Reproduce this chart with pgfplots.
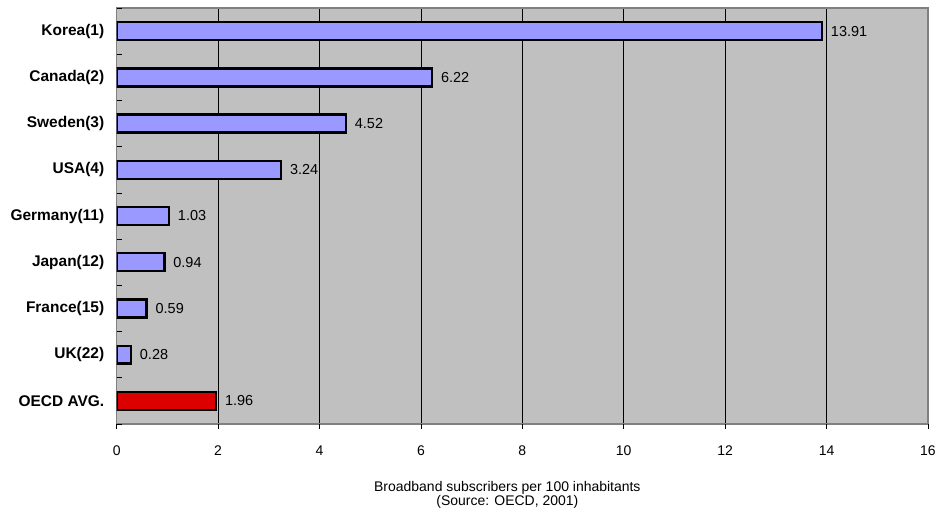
\documentclass[border=0pt]{standalone}
\usepackage{pgfplots}
\pgfplotsset{compat=1.18}
\usepackage{fontspec}
\setmainfont{Liberation Sans}
\definecolor{bgray}{RGB}{192,192,192}
\definecolor{frame}{RGB}{128,128,128}
\definecolor{barblue}{RGB}{153,153,255}
\definecolor{barred}{RGB}{221,0,0}
\begin{document}
\begin{tikzpicture}
\begin{axis}[
  name=ax,
  scale only axis,
  width=813pt, height=417pt,
  xbar, bar width=18pt,
  xmin=0, xmax=16,
  ymin=-0.5, ymax=8.5,
  y dir=reverse,
  axis background/.style={fill=bgray},
  axis line style={draw=frame, line width=1.5pt},
  xtick={0,2,...,16},
  xmajorgrids, major grid style={black, line width=0.8pt},
  major tick length=0pt,
  xtick pos=bottom, ytick pos=left,
  extra x ticks={0,2,...,16},
  extra x tick labels={},
  extra x tick style={major tick length=5pt, tick align=outside, grid=none, tick style={black, line width=0.8pt}},
  ytick={0,...,8},
  yticklabels={Korea(1),Canada(2),Sweden(3),USA(4),Germany(11),Japan(12),France(15),UK(22),OECD AVG.},
  extra y ticks={-0.5,0.5,...,8.5},
  extra y tick labels={},
  extra y tick style={major tick length=5pt, tick align=inside, grid=none, tick style={black, line width=0.8pt}},
  yticklabel style={font=\fontsize{15.5}{17}\selectfont\bfseries, xshift=-9pt},
  xticklabel style={font=\fontsize{14}{16}\selectfont, yshift=-18pt},
  /pgf/number format/assume math mode=true,
  xlabel={Broadband subscribers per 100 inhabitants\\(Source: OECD, 2001)},
  xlabel style={font=\fontsize{14}{14}\selectfont, align=center, yshift=-14pt, xshift=-15pt},
  nodes near coords,
  nodes near coords style={font=\fontsize{14.5}{16}\selectfont, anchor=west, xshift=4.5pt,
    /pgf/number format/fixed, /pgf/number format/fixed zerofill, /pgf/number format/precision=2},
]
\addplot[fill=barblue, draw=black, line width=2.4pt, bar shift=0pt] coordinates {
  (13.91,0) (6.22,1) (4.52,2) (3.24,3) (1.03,4) (0.94,5) (0.59,6) (0.28,7)
};
\addplot[fill=barred, draw=black, line width=2.4pt, bar shift=0pt] coordinates {
  (1.96,8)
};
\end{axis}
\path (ax.south west) ++(-117pt,-87pt) coordinate (bl);
\path (ax.north east) ++(9pt,8pt) coordinate (tr);
\path (bl) rectangle (tr);
\end{tikzpicture}
\end{document}
